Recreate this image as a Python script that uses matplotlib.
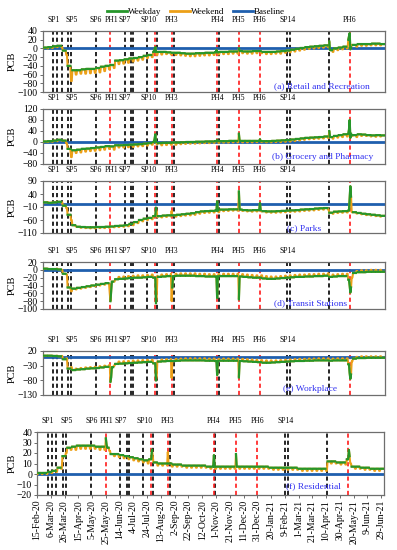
import numpy as np
import pandas as pd
import matplotlib
matplotlib.use('Agg')
import matplotlib.pyplot as plt
import matplotlib.dates as mdates
from matplotlib.lines import Line2D

plt.rcParams['font.family'] = ['Liberation Serif', 'DejaVu Serif']

# daily axis, weekly levels (weeks start Monday 10-Feb-2020)
days = pd.date_range('2020-02-15', '2021-07-02')
week0 = pd.Timestamp('2020-02-10')

# (a) Retail and Recreation
retail_wd = [2, 2, 3, 5, 6, -5, -40, -50, -50, -48, -47, -47, -45, -42, -40, -38, -28, -27, -25, -23,
             -22, -20, -17, -15, -8, -8, -8, -9, -10, -10, -11, -12, -12, -11, -11, -10, -10, -9, -8, -8,
             -7, -7, -6, -7, -7, -6, -6, -8, -8, -8, -7, -6, -5, -3, -1, 1, 3, 4, 5, 6,
             7, -4, 0, 2, 4, 15, 8, 10, 10, 10, 11, 11, 10]
retail_we = [0, 0, 1, 3, 3, -15, -75, -60, -58, -58, -57, -56, -55, -52, -48, -45, -36, -35, -33, -30,
             -28, -26, -22, -20, -15, -14, -13, -14, -15, -16, -17, -18, -18, -17, -16, -16, -15, -14, -13, -13,
             -12, -12, -11, -12, -12, -11, -11, -13, -13, -12, -12, -10, -9, -7, -5, -3, -1, 0, 1, 2,
             3, -8, -4, -2, 0, 8, 4, 6, 6, 7, 7, 7, 6]
retail_spk = [('2020-07-29', -2), ('2020-07-30', 3), ('2020-10-28', -3), ('2020-11-30', 0),
              ('2021-04-12', 16), ('2021-05-10', 20), ('2021-05-11', 28), ('2021-05-12', 35),
              ('2021-05-13', -2), ('2021-05-14', 2)]

# (b) Grocery and Pharmacy
grocery_wd = [2, 2, 3, 5, 8, 5, -25, -30, -28, -25, -24, -22, -20, -18, -15, -16, -12, -12, -11, -10,
              -9, -8, -6, -4, 0, -4, -3, -3, -2, -2, -1, 0, 0, 1, 1, 2, 2, 3, 3, 3,
              4, 4, 4, 4, 4, 4, 4, 3, 3, 4, 5, 6, 7, 9, 11, 13, 15, 16, 17, 18,
              20, 18, 22, 25, 28, 30, 25, 28, 27, 25, 24, 25, 24]
grocery_we = [0, 0, 1, 3, 5, -5, -55, -40, -38, -35, -33, -32, -30, -28, -25, -28, -20, -20, -19, -18,
              -16, -15, -13, -10, -8, -12, -11, -10, -10, -8, -7, -6, -6, -5, -4, -4, -3, -3, -2, -2,
              -1, -1, -1, -1, -1, 0, 0, -1, -1, 0, 0, 1, 2, 4, 6, 8, 10, 11, 12, 13,
              15, 12, 16, 18, 20, 22, 18, 22, 22, 20, 19, 20, 19]
grocery_spk = [('2020-07-29', 12), ('2020-07-30', 28), ('2020-10-29', 8), ('2020-11-30', 30),
               ('2020-12-31', 10), ('2021-04-12', 40), ('2021-05-11', 45), ('2021-05-12', 80),
               ('2021-05-13', 15)]

# (c) Parks
parks_wd = [8, 8, 6, 8, 10, -5, -40, -80, -86, -87, -88, -88, -87, -87, -86, -85, -83, -82, -80, -75,
            -68, -60, -55, -52, -45, -45, -43, -42, -42, -40, -38, -36, -34, -30, -27, -26, -25, -24, -20, -20,
            -19, -19, -20, -22, -23, -22, -22, -26, -27, -27, -26, -25, -24, -23, -22, -20, -19, -18, -16, -15,
            -14, -32, -28, -27, -26, -24, -30, -33, -36, -38, -40, -42, -44]
parks_we = [8, 9, 8, 10, 8, -15, -60, -85, -90, -91, -92, -92, -91, -91, -90, -88, -87, -86, -84, -80,
            -72, -65, -60, -57, -50, -50, -48, -47, -47, -45, -43, -42, -40, -36, -33, -32, -31, -30, -26, -25,
            -24, -24, -25, -27, -28, -27, -27, -31, -32, -32, -31, -30, -29, -28, -27, -25, -24, -23, -21, -20,
            -19, -36, -33, -32, -31, -30, -35, -38, -41, -43, -45, -47, -48]
parks_spk = [('2020-07-31', -13), ('2020-08-01', -25), ('2020-08-23', -25), ('2020-10-29', 12),
             ('2020-11-30', 50), ('2020-12-31', 5), ('2021-05-12', 25), ('2021-05-13', 70),
             ('2021-05-14', 30)]

# (d) Transit Stations
transit_wd = [2, 3, 2, 2, 1, -10, -45, -48, -46, -44, -42, -40, -38, -36, -34, -30, -24, -23, -22, -21,
              -20, -20, -19, -18, -20, -18, -17, -16, -16, -15, -15, -15, -15, -16, -16, -17, -17, -17, -16, -16,
              -16, -16, -17, -18, -19, -20, -20, -22, -23, -23, -22, -21, -20, -19, -18, -18, -17, -17, -16, -16,
              -15, -18, -17, -16, -16, -25, -8, -6, -6, -5, -5, -5, -5]
transit_we = [2, 3, 2, 3, 0, -12, -55, -50, -48, -46, -44, -42, -40, -38, -36, -30, -18, -17, -16, -15,
              -14, -14, -13, -12, -15, -12, -11, -10, -10, -9, -9, -9, -9, -10, -10, -11, -11, -11, -10, -10,
              -10, -10, -11, -12, -13, -14, -14, -16, -17, -17, -16, -15, -14, -13, -12, -12, -11, -11, -10, -10,
              -9, -12, -11, -10, -10, -20, -3, -1, -1, 0, 0, 0, 0]
transit_spk = [('2020-05-24', -60), ('2020-05-25', -80), ('2020-05-26', -55), ('2020-07-31', -85),
               ('2020-08-01', -75), ('2020-08-23', -80), ('2020-08-24', -45), ('2020-10-29', -72),
               ('2020-11-30', -75), ('2021-05-12', -40), ('2021-05-13', -58), ('2021-05-14', -45)]

# (e) Workplace
work_wd = [3, 4, 4, 3, 2, -8, -40, -45, -43, -42, -40, -39, -38, -36, -34, -35, -24, -23, -22, -21,
           -20, -19, -18, -17, -22, -16, -15, -14, -14, -13, -12, -12, -12, -12, -12, -13, -13, -14, -13, -13,
           -13, -13, -14, -15, -16, -17, -18, -20, -20, -19, -18, -17, -16, -15, -14, -14, -13, -13, -12, -12,
           -12, -13, -12, -12, -12, -25, -6, -4, -4, -3, -3, -3, -3]
work_we = [3, 4, 4, 4, 3, -5, -35, -40, -38, -36, -35, -34, -32, -30, -28, -30, -16, -15, -14, -13,
           -12, -11, -10, -10, -15, -9, -8, -7, -7, -6, -5, -5, -5, -5, -5, -6, -6, -7, -6, -6,
           -6, -6, -7, -8, -9, -10, -11, -12, -12, -12, -11, -10, -9, -8, -7, -7, -6, -6, -5, -5,
           -5, -6, -5, -5, -5, -15, 0, 2, 2, 2, 2, 2, 2]
work_spk = [('2020-05-25', -85), ('2020-05-26', -70), ('2020-07-31', -80), ('2020-08-01', -70),
            ('2020-08-23', -72), ('2020-10-29', -62), ('2020-11-30', -70), ('2021-05-12', -55),
            ('2021-05-13', -75), ('2021-05-14', -60)]

# (f) Residential
resid_wd = [1, 1, 1, 2, 3, 6, 17, 25, 26, 27, 27, 27, 27, 26, 26, 25, 19, 19, 18, 17,
            16, 15, 14, 13, 14, 11, 10, 10, 10, 9, 9, 8, 8, 8, 8, 8, 7, 7, 7, 7,
            7, 7, 7, 7, 7, 7, 7, 7, 7, 6, 6, 6, 6, 6, 6, 5, 5, 5, 5, 5,
            5, 12, 12, 11, 11, 14, 7, 7, 6, 6, 5, 5, 5]
resid_we = [0, 0, 0, 1, 2, 5, 20, 23, 23, 24, 24, 24, 24, 23, 23, 22, 17, 16, 15, 14,
            13, 12, 11, 10, 11, 8, 8, 8, 7, 7, 7, 6, 6, 6, 6, 6, 5, 5, 5, 5,
            5, 5, 5, 5, 5, 5, 5, 5, 5, 4, 4, 4, 4, 4, 4, 3, 3, 3, 3, 3,
            3, 10, 10, 9, 9, 10, 5, 5, 4, 4, 3, 3, 3]
resid_spk = [('2020-05-25', 34), ('2020-05-26', 28), ('2020-07-31', 23), ('2020-08-01', 18),
             ('2020-08-23', 21), ('2020-10-29', 18), ('2020-11-30', 19), ('2021-05-13', 23),
             ('2021-05-14', 17)]

panel_names = ['(a) Retail and Recreation', '(b) Grocery and Pharmacy', '(c) Parks',
               '(d) Transit Stations', '(e) Workplace', '(f) Residential']
panel_data = [(retail_wd, retail_we, retail_spk), (grocery_wd, grocery_we, grocery_spk),
              (parks_wd, parks_we, parks_spk), (transit_wd, transit_we, transit_spk),
              (work_wd, work_we, work_spk), (resid_wd, resid_we, resid_spk)]
yticks = [[40, 20, 0, -20, -40, -60, -80, -100], [120, 80, 40, 0, -40, -80],
          [90, 40, -10, -60, -110], [20, 0, -20, -40, -60, -80, -100],
          [20, -30, -80, -130], [40, 30, 20, 10, 0, -10, -20]]

sp_lines = ['2020-03-02', '2020-03-08', '2020-03-14', '2020-03-24', '2020-03-28', '2020-05-04',
            '2020-06-15', '2020-06-24', '2020-06-27', '2020-07-18', '2020-08-01', '2020-08-26',
            '2020-10-31', '2021-02-09', '2021-02-13', '2021-04-11']
ph_lines = ['2020-05-25', '2020-07-30', '2020-08-23', '2020-10-29', '2020-11-30', '2020-12-31',
            '2021-05-12']
event_labels = [('SP1', '2020-03-02'), ('SP5', '2020-03-29'), ('SP6', '2020-05-04'),
                ('PH1', '2020-05-26'), ('SP7', '2020-06-15'), ('SP10', '2020-07-20'),
                ('PH3', '2020-08-23'), ('PH4', '2020-10-29'), ('PH5', '2020-11-30'),
                ('PH6', '2020-12-31'), ('SP14', '2021-02-10')]
extra_label = ('PH6', '2021-05-12')

# panel boxes in pixels: left, right, top, bottom
boxes = [(42.5, 385, 31, 92), (42.5, 385, 109, 164), (42.5, 385, 181, 233),
         (42.5, 385, 262, 309), (42.5, 385, 351, 395), (37, 384, 432, 495)]
name_pos = [(322, 86), (323, 157), (304, 228), (311, 303), (310, 389), (313, 486)]

GREEN = '#26962a'
ORANGE = '#eca018'
BLUE = '#1f5fae'
W, H = 397, 550

fig = plt.figure(figsize=(W / 100, H / 100), dpi=100)

is_we = days.dayofweek >= 5
widx = (days - week0).days // 7
x0 = mdates.date2num(pd.Timestamp('2020-02-15'))
x1 = mdates.date2num(pd.Timestamp('2021-07-03'))

for i, ((wd, we, spk), box) in enumerate(zip(panel_data, boxes)):
    l, r, t, b = box
    ax = fig.add_axes([l / W, 1 - b / H, (r - l) / W, (b - t) / H])
    vals = np.where(is_we, np.array(we)[widx], np.array(wd)[widx]).astype(float)
    s = pd.Series(vals, index=days)
    for d, v in spk:
        s[pd.Timestamp(d)] = v
    wk = s.where(~is_we)

    for d in sp_lines:
        ax.axvline(pd.Timestamp(d), color='black', lw=1.2, ls=(0, (2.5, 1.8)), zorder=1)
    for d in ph_lines:
        ax.axvline(pd.Timestamp(d), color='#ff1a1a', lw=1.2, ls=(0, (2.5, 1.8)), zorder=1)
    ax.axhline(0, color=BLUE, lw=2.0, zorder=2)
    ax.plot(s.index, s.values, color=ORANGE, lw=1.5, zorder=3)
    ax.plot(wk.index, wk.values, color=GREEN, lw=1.6, zorder=4)

    yt = yticks[i]
    ax.set_ylim(min(yt), max(yt))
    ax.set_yticks(yt)
    ax.set_xlim(x0, x1)
    ax.tick_params(axis='y', labelsize=7, length=2, width=0.6, pad=1.5, color='#555555')
    ax.set_ylabel('PCB', fontsize=7.5, labelpad=2)
    ax.yaxis.set_label_coords(-(l - 17) / (r - l), 0.5)
    for sp in ax.spines.values():
        sp.set_color('#6e6e6e')
        sp.set_linewidth(0.9)

    labs = event_labels + ([extra_label] if i == 0 else [])
    for txt, d in labs:
        ax.text(mdates.date2num(pd.Timestamp(d)), 1.0 + 11 / (b - t), txt, fontsize=5.5,
                ha='center', va='center', transform=ax.get_xaxis_transform())

    fig.text(name_pos[i][0] / W, 1 - name_pos[i][1] / H, panel_names[i], fontsize=6.8,
             color='#3030f0', ha='center', va='center')

    if i < 5:
        ax.set_xticks([])
    else:
        ticks = pd.date_range('2020-02-15', '2021-06-29', freq='20D')
        ax.set_xticks(mdates.date2num(ticks))
        ax.set_xticklabels([f"{d.day}-{d.strftime('%b-%y')}" for d in ticks],
                           rotation=90, fontsize=7)
        ax.tick_params(axis='x', length=2, width=0.6, pad=1.5, color='#555555')

handles = [Line2D([], [], color=GREEN, lw=2), Line2D([], [], color=ORANGE, lw=2),
           Line2D([], [], color=BLUE, lw=2)]
fig.legend(handles, ['Weekday', 'Weekend', 'Baseline'], loc='center', ncol=3,
           bbox_to_anchor=(196 / W, 1 - 12 / H), frameon=False, fontsize=6.5,
           handlelength=2.2, handletextpad=0.1, columnspacing=1.0, borderpad=0)

fig.savefig('out.png', dpi=100)
